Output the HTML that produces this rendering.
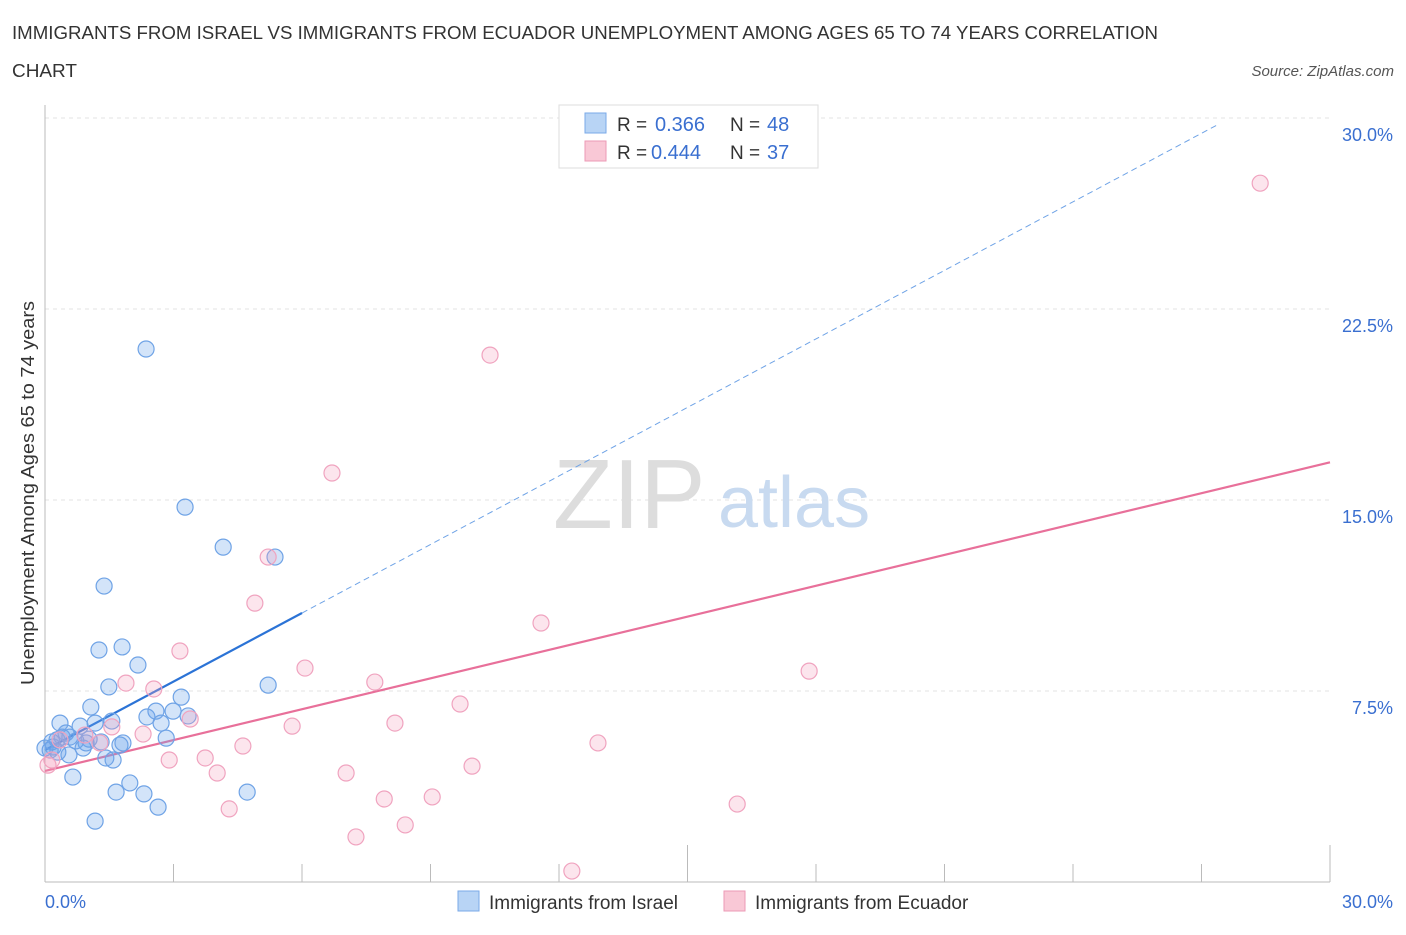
<!DOCTYPE html>
<html><head><meta charset="utf-8"><style>
body{margin:0;background:#fff;font-family:"Liberation Sans",sans-serif;}
svg text{font-family:"Liberation Sans",sans-serif;}
</style></head><body>
<svg id="chart" width="1406" height="930" xmlns="http://www.w3.org/2000/svg">
<text x="12" y="39" font-size="18" fill="#333" textLength="1146" lengthAdjust="spacingAndGlyphs">IMMIGRANTS FROM ISRAEL VS IMMIGRANTS FROM ECUADOR UNEMPLOYMENT AMONG AGES 65 TO 74 YEARS CORRELATION</text>
<text x="12" y="77" font-size="18" fill="#333" textLength="65" lengthAdjust="spacingAndGlyphs">CHART</text>
<text x="1394" y="76" font-size="15" fill="#555" font-style="italic" text-anchor="end">Source: ZipAtlas.com</text>
<text transform="translate(34,493) rotate(-90)" font-size="18" fill="#333" text-anchor="middle" textLength="384" lengthAdjust="spacingAndGlyphs">Unemployment Among Ages 65 to 74 years</text>
<g id="grid"></g>
<text x="553" y="528" font-size="98" fill="#ddd" font-family="Liberation Serif,serif">ZIP</text>
<text x="718" y="527" font-size="72" fill="#c8daf0">atlas</text>
<g id="lines"></g>
<g id="points"></g>
<g>
<rect x="559" y="105" width="259" height="63" fill="#fff" stroke="#ddd"/>
<rect x="585" y="113" width="21" height="20" fill="#b8d4f5" stroke="#7aaae8"/>
<rect x="585" y="141" width="21" height="20" fill="#f9c8d6" stroke="#ec9ab6"/>
<text x="617" y="131" font-size="19" fill="#333">R = </text><text x="655" y="131" font-size="20" fill="#3a6fd0">0.366</text>
<text x="730" y="131" font-size="19" fill="#333">N = </text><text x="767" y="131" font-size="20" fill="#3a6fd0">48</text>
<text x="617" y="159" font-size="19" fill="#333">R = </text><text x="651" y="159" font-size="20" fill="#3a6fd0">0.444</text>
<text x="730" y="159" font-size="19" fill="#333">N = </text><text x="767" y="159" font-size="20" fill="#3a6fd0">37</text>
</g>
<g>
<rect x="458" y="891" width="21" height="20" fill="#b8d4f5" stroke="#7aaae8"/>
<text x="489" y="909" font-size="19" fill="#333">Immigrants from Israel</text>
<rect x="724" y="891" width="21" height="20" fill="#f9c8d6" stroke="#ec9ab6"/>
<text x="755" y="909" font-size="19" fill="#333">Immigrants from Ecuador</text>
</g>
</svg>
<script>
const yTicks=[7.5,15,22.5,30];
const yTickLabels=["7.5%","15.0%","22.5%","30.0%"];
const xTicks=[0,3,6,9,12,15,18,21,24,27,30];
const xEndLabels=["0.0%","30.0%"];
const israelX=[2.36,3.27,4.16,5.37,1.38,1.26,1.80,2.17,1.49,5.21,1.07,3.18,2.38,2.59,2.99,3.34,2.71,1.56,1.17,0.35,0.82,0.49,0.40,0.58,0.72,0.96,1.03,1.31,1.75,1.82,2.83,0.19,0.12,0.30,0.89,0.56,1.42,1.59,0.65,1.98,1.66,2.31,4.72,2.64,1.17,0.16,0.28,0.0];
const israelY=[20.93,14.72,13.15,12.76,11.62,9.11,9.23,8.52,7.66,7.73,6.87,7.26,6.48,6.71,6.71,6.52,6.24,6.32,6.24,6.24,6.12,5.85,5.69,5.69,5.54,5.46,5.61,5.50,5.38,5.46,5.65,5.30,5.18,5.10,5.26,4.99,4.87,4.79,4.12,3.89,3.53,3.46,3.53,2.94,2.39,5.50,5.58,5.26];
const ecuadorX=[28.37,10.39,6.70,5.21,4.90,11.58,3.15,1.89,2.54,6.07,7.70,17.84,9.69,3.39,5.77,8.17,1.56,2.29,1.28,4.62,12.91,3.74,2.90,4.02,9.97,7.03,7.92,9.04,4.30,16.16,8.41,7.26,12.30,0.35,0.16,0.07,0.93];
const ecuadorY=[27.44,20.69,16.06,12.76,10.95,10.17,9.07,7.81,7.58,8.40,7.85,8.28,6.99,6.40,6.12,6.24,6.09,5.81,5.46,5.34,5.46,4.87,4.79,4.28,4.55,4.28,3.26,3.34,2.87,3.06,2.24,1.77,0.43,5.58,4.79,4.59,5.77];
const israelFit=[5.18,0.897];
const ecuadorFit=[4.36,0.404];
const X0=45,X1=1330,Y0=882,Y1=118;
const sx=v=>X0+(v/30)*(X1-X0);
const sy=v=>Y0-(v/30)*(Y0-Y1);
const NS="http://www.w3.org/2000/svg";
function mk(tag,attrs,parent){const e=document.createElementNS(NS,tag);for(const k in attrs)e.setAttribute(k,attrs[k]);parent.appendChild(e);return e;}
const grid=document.getElementById('grid');
yTicks.forEach((t,i)=>{
 const l=mk('line',{x1:X0,x2:X1,y1:sy(t),y2:sy(t),stroke:'#e3e3e3','stroke-dasharray':'4,4'},grid);
 
 
 const tx=mk('text',{x:1393,y:sy(t)+23,'font-size':18,fill:'#3a6fd0','text-anchor':'end'},grid);
 tx.textContent=yTickLabels[i];
 
 
});
const ya=mk('line',{x1:X0,x2:X0,y1:105,y2:Y0,stroke:'#bbb'},grid);


const xa=mk('line',{x1:X0,x2:X1,y1:Y0,y2:Y0,stroke:'#bbb'},grid);


xTicks.forEach(t=>{
 const long=(t===15||t===30);
 const l=mk('line',{x1:sx(t),x2:sx(t),y1:long?845:864,y2:Y0,stroke:'#bbb'},grid);
 
 
});
const xl0=mk('text',{x:45,y:908,'font-size':18,fill:'#3a6fd0'},grid);xl0.textContent=xEndLabels[0];


const xl1=mk('text',{x:1393,y:908,'font-size':18,fill:'#3a6fd0','text-anchor':'end'},grid);xl1.textContent=xEndLabels[1];


const pts=document.getElementById('points');
israelX.forEach((x,i)=>{
 const c=mk('circle',{cx:sx(x),cy:sy(israelY[i]),r:8,fill:'rgba(110,165,235,0.3)',stroke:'#6fa3e6','stroke-width':1.2},pts);
 
 
});
ecuadorX.forEach((x,i)=>{
 const c=mk('circle',{cx:sx(x),cy:sy(ecuadorY[i]),r:8,fill:'rgba(245,160,190,0.28)',stroke:'#f0a3bf','stroke-width':1.2},pts);
 
 
});
const ln=document.getElementById('lines');
const fi=x=>israelFit[0]+israelFit[1]*x, fe=x=>ecuadorFit[0]+ecuadorFit[1]*x;
const xEndDash=(30-israelFit[0])/israelFit[1]+(-0.3);
const d=mk('line',{x1:sx(6),y1:sy(fi(6)),x2:sx(xEndDash),y2:sy(fi(xEndDash)),stroke:'#6fa3e6','stroke-width':1,'stroke-dasharray':'6,4'},ln);


const s=mk('line',{x1:sx(0),y1:sy(fi(0)),x2:sx(6),y2:sy(fi(6)),stroke:'#2b73d6','stroke-width':2.2},ln);


const p=mk('line',{x1:sx(0),y1:sy(fe(0)),x2:sx(30),y2:sy(fe(30)),stroke:'#e8709a','stroke-width':2.2},ln);


</script>
</body></html>
